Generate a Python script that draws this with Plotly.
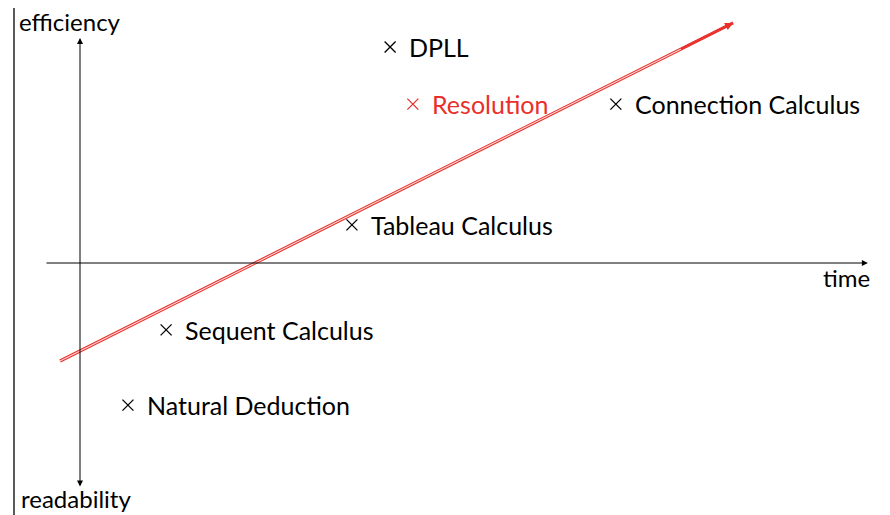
import plotly.graph_objects as go

# positions in diagram units (origin at axes crossing)
methods = ["DPLL", "Resolution", "Connection Calculus", "Tableau Calculus",
           "Sequent Calculus", "Natural Deduction"]
method_x = [8.86, 9.51, 15.31, 7.77, 2.46, 1.37]
method_y = [6.17, 4.54, 4.54, 1.09, -1.91, -4.06]
method_colors = ["black", "#e8302a", "black", "black", "black", "black"]

trend_x = [-0.57, 18.66]
trend_y = [-2.80, 6.86]

axis_labels = ["efficiency", "readability", "time"]
axis_label_x = [-1.79, -1.74, 21.17]
axis_label_y = [6.89, -6.72, -0.4]

font = "Lato"
fig = go.Figure()

# trend line, drawn as a double red stroke
fig.add_trace(go.Scatter(x=trend_x, y=trend_y, mode="lines",
                         line=dict(color="#e8302a", width=3.2), hoverinfo="skip"))
fig.add_trace(go.Scatter(x=[trend_x[0], trend_x[0] + 0.985 * (trend_x[1] - trend_x[0])],
                         y=[trend_y[0], trend_y[0] + 0.985 * (trend_y[1] - trend_y[0])],
                         mode="lines", line=dict(color="#fbd6d4", width=1.1), hoverinfo="skip"))

fig.add_trace(go.Scatter(x=method_x, y=method_y, mode="markers",
                         marker=dict(symbol="x-thin", size=11,
                                     line=dict(width=1.3, color=method_colors)),
                         hoverinfo="skip"))

anns = []
for name, x, y, c in zip(methods, method_x, method_y, method_colors):
    anns.append(dict(x=x, y=y, text=name, showarrow=False, xanchor="left",
                     xshift=17, font=dict(family=font, size=25, color=c)))
for t, x, y in zip(axis_labels, axis_label_x, axis_label_y):
    anns.append(dict(x=x, y=y, text=t, showarrow=False, xanchor="left",
                     font=dict(family=font, size=24, color="black")))

# axes arrows
anns.append(dict(x=22.51, y=0, ax=-1.0, ay=0, axref="x", ayref="y", text="",
                 showarrow=True, arrowhead=2, arrowsize=1.2, arrowwidth=1, arrowcolor="black"))
anns.append(dict(x=0, y=6.43, ax=0, ay=-6.43, axref="x", ayref="y", text="",
                 showarrow=True, arrowhead=2, startarrowhead=2, arrowside="end+start",
                 arrowsize=1.2, startarrowsize=1.2, arrowwidth=1, arrowcolor="black"))
# head of trend arrow
anns.append(dict(x=trend_x[1], y=trend_y[1],
                 ax=trend_x[1] - 0.08 * (trend_x[1] - trend_x[0]),
                 ay=trend_y[1] - 0.08 * (trend_y[1] - trend_y[0]),
                 axref="x", ayref="y", text="", showarrow=True, arrowhead=2,
                 arrowsize=0.8, arrowwidth=2, arrowcolor="#e8302a"))

fig.add_shape(type="line", x0=-1.886, x1=-1.886, y0=0, y1=1, yref="paper",
              line=dict(color="black", width=1.3))

fig.update_layout(
    width=882, height=507, margin=dict(l=0, r=0, t=0, b=0),
    plot_bgcolor="white", paper_bgcolor="white", showlegend=False,
    annotations=anns,
    xaxis=dict(range=[-72 / 35, 810 / 35], visible=False, fixedrange=True),
    yaxis=dict(range=[-252 / 35, 255 / 35], visible=False, fixedrange=True),
)
fig.write_html("out.html")
